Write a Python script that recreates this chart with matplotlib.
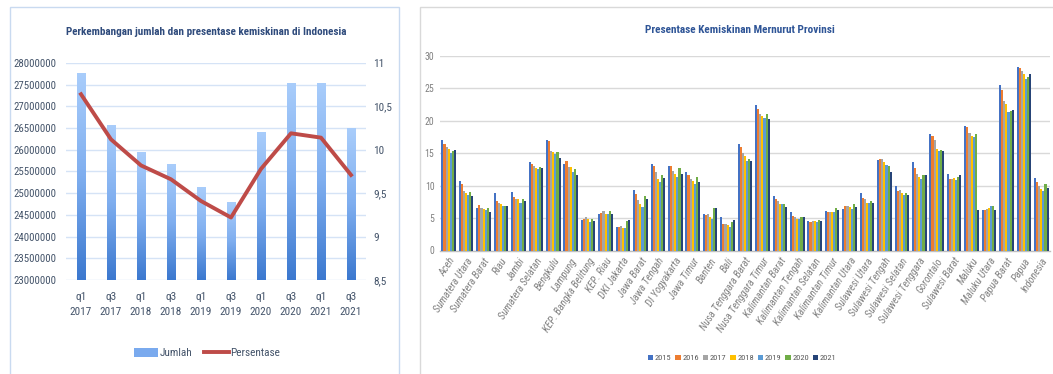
import numpy as np
import matplotlib
matplotlib.use("Agg")
import matplotlib.pyplot as plt
import matplotlib.font_manager as fm
from matplotlib.colors import LinearSegmentedColormap
from matplotlib.patches import Rectangle, Patch
from matplotlib.lines import Line2D
from matplotlib.ticker import FuncFormatter

# ---------------- data ----------------
periods = ["q1\n2017", "q3\n2017", "q1\n2018", "q3\n2018", "q1\n2019",
           "q3\n2019", "q1\n2020", "q3\n2020", "q1\n2021", "q3\n2021"]
jumlah = [27770000, 26580000, 25950000, 25670000, 25140000,
          24790000, 26420000, 27550000, 27540000, 26500000]
persentase = [10.64, 10.12, 9.82, 9.66, 9.41, 9.22, 9.78, 10.19, 10.14, 9.71]

provinsi = ["Aceh", "Sumatera Utara", "Sumatera Barat", "Riau", "Jambi",
            "Sumatera Selatan", "Bengkulu", "Lampung", "KEP. Bangka Belitung",
            "KEP. Riau", "DKI Jakarta", "Jawa Barat", "Jawa Tengah",
            "DI Yogyakarta", "Jawa Timur", "Banten", "Bali",
            "Nusa Tenggara Barat", "Nusa Tenggara Timur", "Kalimantan Barat",
            "Kalimantan Tengah", "Kalimantan Selatan", "Kalimantan Timur",
            "Kalimantan Utara", "Sulawesi Utara", "Sulawesi Tengah",
            "Sulawesi Selatan", "Sulawesi Tenggara", "Gorontalo",
            "Sulawesi Barat", "Maluku", "Maluku Utara", "Papua Barat",
            "Papua", "Indonesia"]
tahun = ["2015", "2016", "2017", "2018", "2019", "2020", "2021"]

p2015 = [17.0, 10.7, 6.6, 8.8, 9.1, 13.7, 17.1, 13.4, 4.7, 5.6, 3.6, 9.4,
         13.3, 13.1, 12.1, 5.7, 5.2, 16.4, 22.5, 8.4, 5.9, 4.6, 6.1, 6.4,
         8.9, 14.0, 10.0, 13.6, 18.0, 11.8, 19.2, 6.2, 25.6, 28.3, 11.2]
p2016 = [16.4, 10.2, 7.0, 7.6, 8.3, 13.3, 16.9, 13.8, 4.9, 5.8, 3.7, 8.7,
         13.1, 13.0, 11.7, 5.4, 4.1, 15.9, 21.8, 7.9, 5.3, 4.4, 6.0, 6.9,
         8.1, 14.1, 9.2, 12.8, 17.6, 11.1, 19.1, 6.3, 24.7, 28.2, 10.6]
p2017 = [15.9, 9.2, 6.6, 7.3, 7.9, 13.0, 15.4, 12.9, 5.2, 6.1, 3.8, 7.8,
         12.1, 12.2, 11.1, 5.6, 4.1, 15.0, 21.1, 7.7, 5.2, 4.6, 6.0, 6.8,
         7.9, 14.1, 9.4, 11.8, 17.0, 11.1, 18.2, 6.4, 23.0, 27.7, 9.9]
p2018 = [15.7, 8.9, 6.4, 7.1, 7.9, 12.7, 15.2, 12.9, 4.8, 5.7, 3.5, 7.1,
         11.1, 11.8, 10.7, 5.2, 3.9, 14.5, 20.8, 7.2, 4.9, 4.6, 6.0, 6.7,
         7.4, 13.6, 8.8, 11.3, 15.7, 11.2, 17.7, 6.5, 22.6, 27.3, 9.5]
p2019 = [15.0, 8.6, 6.3, 6.8, 7.4, 12.5, 14.9, 12.1, 4.4, 5.6, 3.4, 6.7,
         10.5, 11.3, 10.2, 4.9, 3.6, 13.8, 20.4, 7.1, 4.8, 4.4, 5.9, 6.4,
         7.4, 13.2, 8.6, 11.1, 15.3, 10.9, 17.5, 6.8, 21.4, 26.4, 9.2]
p2020 = [15.4, 9.1, 6.5, 6.9, 7.9, 12.9, 15.2, 12.6, 4.8, 6.1, 4.6, 8.4,
         11.7, 12.7, 11.3, 6.6, 4.4, 14.1, 21.0, 7.1, 5.2, 4.7, 6.6, 7.2,
         7.7, 13.0, 8.9, 11.6, 15.5, 11.3, 17.9, 6.9, 21.5, 26.7, 10.2]
p2021 = [15.5, 8.4, 6.0, 6.9, 7.6, 12.7, 14.3, 11.6, 4.6, 5.6, 4.7, 7.9,
         11.2, 11.8, 10.5, 6.5, 4.7, 13.8, 20.3, 6.7, 5.1, 4.5, 6.2, 6.7,
         7.3, 12.1, 8.5, 11.6, 15.3, 11.7, 6.3, 6.3, 21.7, 27.3, 9.6]
series = [p2015, p2016, p2017, p2018, p2019, p2020, p2021]
warna = ["#4472C4", "#ED7D31", "#A5A5A5", "#FFC000", "#5B9BD5", "#70AD47", "#264478"]

# ---------------- fonts ----------------
available = {f.name for f in fm.fontManager.ttflist}
FONT = next((n for n in ["Liberation Sans Narrow", "Roboto Condensed",
                         "Open Sans Condensed", "Liberation Sans"] if n in available),
            "DejaVu Sans")
plt.rcParams["font.family"] = [FONT, "DejaVu Sans"]

W, H = 1053, 374
fig = plt.figure(figsize=(W / 100, H / 100), dpi=100)
fig.patch.set_facecolor("white")


def fbox(x0, y0, x1, y1):
    """pixel box (top-left origin) -> figure fraction [l, b, w, h]"""
    return [x0 / W, 1 - y1 / H, (x1 - x0) / W, (y1 - y0) / H]


# chart frames
fig.add_artist(Rectangle((10 / W, -0.05), (399 - 10) / W, 1 - 7 / H + 0.05,
                         transform=fig.transFigure, fill=False,
                         edgecolor="#C9DAF0", lw=1.0))
fig.add_artist(Rectangle((420 / W, -0.05), 0.7, 1 - 7 / H + 0.05,
                         transform=fig.transFigure, fill=False,
                         edgecolor="#D9D9D9", lw=1.0))

# ================= left chart =================
TXT_L = "#44546A"
ax = fig.add_axes(fbox(66, 63, 366, 280))
x = np.arange(len(periods))
bw = 0.28

grad_cmap = LinearSegmentedColormap.from_list("bar", ["#3B78CF", "#7FAEEF", "#A9CDFB"])
grad = np.linspace(0, 1, 256).reshape(-1, 1)
for xi, v in zip(x, jumlah):
    rect = Rectangle((xi - bw / 2, 23000000), bw, v - 23000000,
                     facecolor="none", edgecolor="none")
    ax.add_patch(rect)
    im = ax.imshow(grad, cmap=grad_cmap, origin="lower", aspect="auto",
                   extent=[xi - bw / 2, xi + bw / 2, 23000000, v], zorder=2)
    im.set_clip_path(rect)
ax.set_xlim(-0.5, len(periods) - 0.5)
ax.set_ylim(23000000, 28000000)
ax.set_aspect("auto")

ax.set_yticks(np.arange(23000000, 28000001, 500000))
ax.yaxis.set_major_formatter(FuncFormatter(lambda v, p: f"{int(v)}"))
ax.grid(axis="y", color="#D5E3F6", lw=1.0, zorder=0)
ax.set_axisbelow(True)
ax.set_xticks(x)
ax.set_xticklabels(periods, linespacing=1.55)
ax.tick_params(axis="y", length=0, pad=7, labelsize=7.8, labelcolor=TXT_L)
ax.tick_params(axis="x", length=0, pad=9, labelsize=8.1, labelcolor=TXT_L)
for s in ax.spines.values():
    s.set_visible(False)

ax2 = ax.twinx()
ax2.set_ylim(8.5, 11)
ax2.plot(x, persentase, color="#BE4B48", lw=2.8, solid_joinstyle="round", zorder=5)
ax2.set_yticks(np.arange(8.5, 11.01, 0.5))
ax2.yaxis.set_major_formatter(FuncFormatter(lambda v, p: f"{v:g}".replace(".", ",")))
ax2.tick_params(axis="y", length=0, pad=5, labelsize=8.1, labelcolor=TXT_L)
for s in ax2.spines.values():
    s.set_visible(False)

fig.text(206 / W, 1 - 32 / H, "Perkembangan jumlah dan presentase kemiskinan di Indonesia",
         ha="center", va="center", fontsize=8.0, fontweight="bold", color="#2F4B7C")

leg_handles = [Patch(facecolor="#7AAAEE", edgecolor="none"),
               Line2D([0], [0], color="#BE4B48", lw=2.8)]
fig.legend(leg_handles, ["Jumlah", "Persentase"], loc="center",
           bbox_to_anchor=(207 / W, 1 - 353 / H), ncol=2, frameon=False,
           fontsize=8.1, labelcolor=TXT_L, handlelength=2.2, handleheight=0.8,
           handletextpad=0.15, columnspacing=1.0)

# ================= right chart =================
TXT_R = "#808080"
axr = fig.add_axes(fbox(440, 56, 1050, 250.5))
n = len(provinsi)
gx = np.arange(n)
nb = len(series)
bwr = 0.84 / nb
for k, (vals, c) in enumerate(zip(series, warna)):
    axr.bar(gx - 0.42 + bwr * (k + 0.5), vals, width=bwr, color=c,
            edgecolor="none", linewidth=0, zorder=3, label=tahun[k])
axr.set_xlim(-0.5, n - 0.5)
axr.set_ylim(0, 30)
axr.set_yticks(np.arange(0, 31, 5))
axr.grid(axis="y", color="#D9D9D9", lw=1.0, zorder=0)
axr.set_axisbelow(True)
axr.set_xticks(gx)
axr.set_xticklabels(provinsi, rotation=57, ha="right", va="top",
                    rotation_mode="anchor", fontstyle="italic")
axr.tick_params(axis="x", length=0, pad=4, labelsize=7.6, labelcolor=TXT_R)
axr.tick_params(axis="y", length=0, pad=4, labelsize=7, labelcolor=TXT_R)
for side in ("top", "right", "left"):
    axr.spines[side].set_visible(False)
axr.spines["bottom"].set_color("#BFBFBF")
axr.spines["bottom"].set_linewidth(1.0)

fig.text(740 / W, 1 - 30 / H, "Presentase Kemiskinan Mernurut Provinsi",
         ha="center", va="center", fontsize=8.1, fontweight="bold", color="#2F5597")

h, l = axr.get_legend_handles_labels()
fig.legend(h, l, loc="center", bbox_to_anchor=(742 / W, 1 - 358 / H), ncol=7,
           frameon=False, fontsize=6.0, labelcolor="#595959", handlelength=0.7,
           handleheight=0.7, handletextpad=0.15, columnspacing=0.45)

fig.savefig("out.png", dpi=100)
